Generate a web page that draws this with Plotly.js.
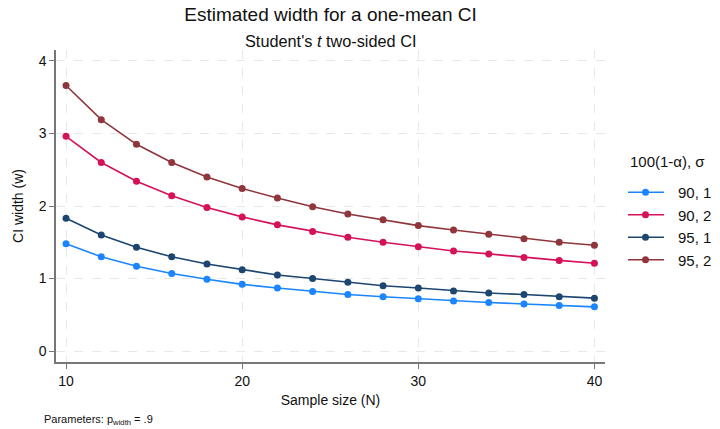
<!DOCTYPE html>
<html><head><meta charset="utf-8">
<script src="https://cdn.plot.ly/plotly-3.0.1.min.js"></script>
<style>body{margin:0;background:#fff}#c{width:720px;height:429px}</style>
</head><body><div id="c"></div>
<script>
const N = [10,12,14,16,18,20,22,24,26,28,30,32,34,36,38,40];
const w90s1 = [1.48,1.30,1.17,1.07,0.99,0.92,0.87,0.82,0.78,0.75,0.72,0.69,0.67,0.65,0.63,0.61];
const w90s2 = [2.96,2.60,2.34,2.14,1.98,1.85,1.74,1.65,1.57,1.50,1.44,1.38,1.34,1.29,1.25,1.21];
const w95s1 = [1.83,1.60,1.43,1.30,1.20,1.12,1.05,1.00,0.95,0.90,0.87,0.83,0.80,0.78,0.75,0.73];
const w95s2 = [3.66,3.19,2.85,2.60,2.40,2.24,2.11,1.99,1.89,1.81,1.73,1.67,1.61,1.55,1.50,1.46];
const seriesNames = ["90, 1","90, 2","95, 1","95, 2"];
const colors = ["#1a85ff","#d41159","#1c4670","#90353b"];
const ys = [w90s1,w90s2,w95s1,w95s2];
const traces = ys.map((y,i)=>({x:N,y:y,name:seriesNames[i],legendgroup:"g"+i,type:"scatter",mode:"lines+markers",
  line:{color:colors[i],width:1.6},marker:{color:colors[i],size:7}}));
const layout = {
  width:720,height:429,paper_bgcolor:"#fff",plot_bgcolor:"#fff",
  margin:{l:56,r:115,t:50,b:67},
  font:{family:"Liberation Sans, Arial, sans-serif",color:"#111"},
  title:{text:"Estimated width for a one-mean CI",x:0.5,xanchor:"center",xref:"paper",y:1-14/429,yanchor:"middle",font:{size:19}},
  annotations:[
    {text:"Student's <i>t</i> two-sided CI",xref:"paper",yref:"paper",x:0.5,y:1.0,yshift:9,showarrow:false,font:{size:16.3},xanchor:"center",yanchor:"middle"},
    {text:"100(1-α), σ",xref:"paper",yref:"paper",x:1,xshift:23,y:1.0,yshift:-111,showarrow:false,font:{size:15},xanchor:"left",yanchor:"middle"},
    {text:"Parameters: p<sub>width</sub> = .9",xref:"paper",yref:"paper",x:0,xshift:-14,y:0,yshift:-58,showarrow:false,font:{size:11},xanchor:"left",yanchor:"middle"}
  ],
  xaxis:{range:[9.43,40.6],tickvals:[10,20,30,40],ticks:"outside",ticklen:5,tickcolor:"#777",
    showline:true,linecolor:"#777",linewidth:1.5,mirror:false,zeroline:false,
    showgrid:true,gridcolor:"#e8e8e8",griddash:"dash",gridwidth:1,
    tickfont:{size:14},title:{text:"Sample size (N)",font:{size:14},standoff:8}},
  yaxis:{range:[-0.15,4.15],tickvals:[0,1,2,3,4],ticks:"outside",ticklen:5,tickcolor:"#777",
    showline:true,linecolor:"#777",linewidth:1.5,zeroline:false,
    showgrid:true,gridcolor:"#e8e8e8",griddash:"dash",gridwidth:1,
    tickfont:{size:14},title:{text:"CI width (w)",font:{size:14},standoff:12}},
  legend:{x:1,xanchor:"left",y:1-(180-50)/312,yanchor:"top",xref:"paper",font:{size:15},
    tracegroupgap:2.5,itemwidth:40,bgcolor:"rgba(0,0,0,0)",traceorder:"normal"}
};
Plotly.newPlot("c",traces,layout,{displayModeBar:false}).then(()=>{
  const lg=document.querySelector(".legend");
  if(lg){const t=lg.getAttribute("transform");const m=/translate\(([-\d.]+),\s*([-\d.]+)\)/.exec(t);
    if(m){lg.setAttribute("transform","translate("+(parseFloat(m[1])+23)+","+(parseFloat(m[2])-4)+")");}
    lg.querySelectorAll(".legendlines path").forEach(p=>p.setAttribute("d","M-1,0h37"));
    lg.querySelectorAll(".legendpoints path").forEach(p=>p.setAttribute("transform","translate(17.5,0)"));
  }
});
</script></body></html>
